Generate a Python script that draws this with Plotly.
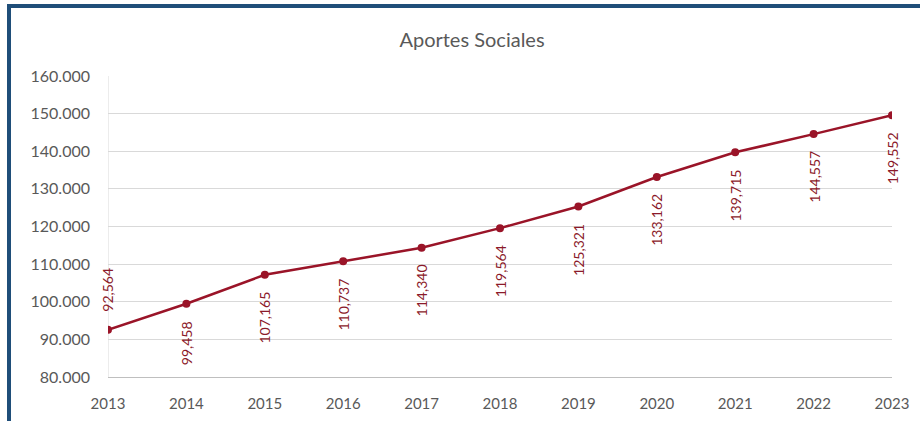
import plotly.graph_objects as go

years = [2013, 2014, 2015, 2016, 2017, 2018, 2019, 2020, 2021, 2022, 2023]
values = [92564, 99458, 107165, 110737, 114340, 119564, 125321, 133162, 139715, 144557, 149552]
y_ticks = [80000, 90000, 100000, 110000, 120000, 130000, 140000, 150000, 160000]
y_tick_text = ["80.000", "90.000", "100.000", "110.000", "120.000", "130.000", "140.000", "150.000", "160.000"]
title_text = "Aportes Sociales"

LINE = "#9A1428"
FONT = "Lato"

fig = go.Figure()
fig.add_trace(go.Scatter(
    x=years, y=values, mode="lines+markers",
    line=dict(color=LINE, width=2.5),
    marker=dict(color=LINE, size=8),
    hoverinfo="x+y", showlegend=False,
))

for i, (yr, v) in enumerate(zip(years, values)):
    first = i == 0
    fig.add_annotation(
        x=yr, y=v, xref="x", yref="y",
        text=f"{v:,}", showarrow=False, textangle=-90,
        font=dict(family=FONT, size=14, color="#8B1A2A"),
        xanchor="center",
        yanchor="bottom" if first else "top",
        yshift=16 if first else -15,
    )

W, H = 920, 421
L, R, T, B = 108, 28, 76, 44
pw, ph = W - L - R, H - T - B

def px(x):
    return (x - L) / pw

def py(y):
    return (H - B - y) / ph

BORDER = "#1F4E79"
fig.add_shape(type="rect", xref="paper", yref="paper",
              x0=px(7), x1=px(11), y0=py(H + 5), y1=py(4),
              fillcolor=BORDER, line=dict(width=0), layer="above")
fig.add_shape(type="rect", xref="paper", yref="paper",
              x0=px(7), x1=px(W + 5), y0=py(8), y1=py(4),
              fillcolor=BORDER, line=dict(width=0), layer="above")

fig.update_layout(
    width=W, height=H,
    margin=dict(l=L, r=R, t=T, b=B, autoexpand=False),
    paper_bgcolor="white", plot_bgcolor="white",
    title=dict(text=title_text, x=472 / W, xanchor="center", y=1 - 40 / H, yanchor="middle",
               font=dict(family=FONT, size=20, color="#595959")),
    xaxis=dict(range=[2013, 2023], tickvals=years, ticktext=[str(y) for y in years],
               showgrid=False,
               showline=True, linecolor="#BFBFBF", linewidth=1,
               zeroline=False, ticks="", ticklabelstandoff=13,
               tickfont=dict(family=FONT, size=15, color="#595959")),
    yaxis=dict(range=[80000, 160000], tickvals=y_ticks, ticktext=y_tick_text,
               showgrid=True, gridcolor="#D9D9D9", gridwidth=1,
               showline=False, zeroline=False, ticks="", ticklabelstandoff=17,
               tickfont=dict(family=FONT, size=16, color="#595959")),
)
fig.add_shape(type="line", xref="x", yref="paper", x0=2013, x1=2013, y0=0, y1=1,
              line=dict(color="#D9D9D9", width=1), layer="below")

fig.write_html("out.html", config={"displayModeBar": False})

with open("out.html", "r", encoding="utf-8") as f:
    html = f.read()
html = html.replace("<head>", "<head><style>html,body{margin:0;padding:0;overflow:hidden;}</style>", 1)
with open("out.html", "w", encoding="utf-8") as f:
    f.write(html)
